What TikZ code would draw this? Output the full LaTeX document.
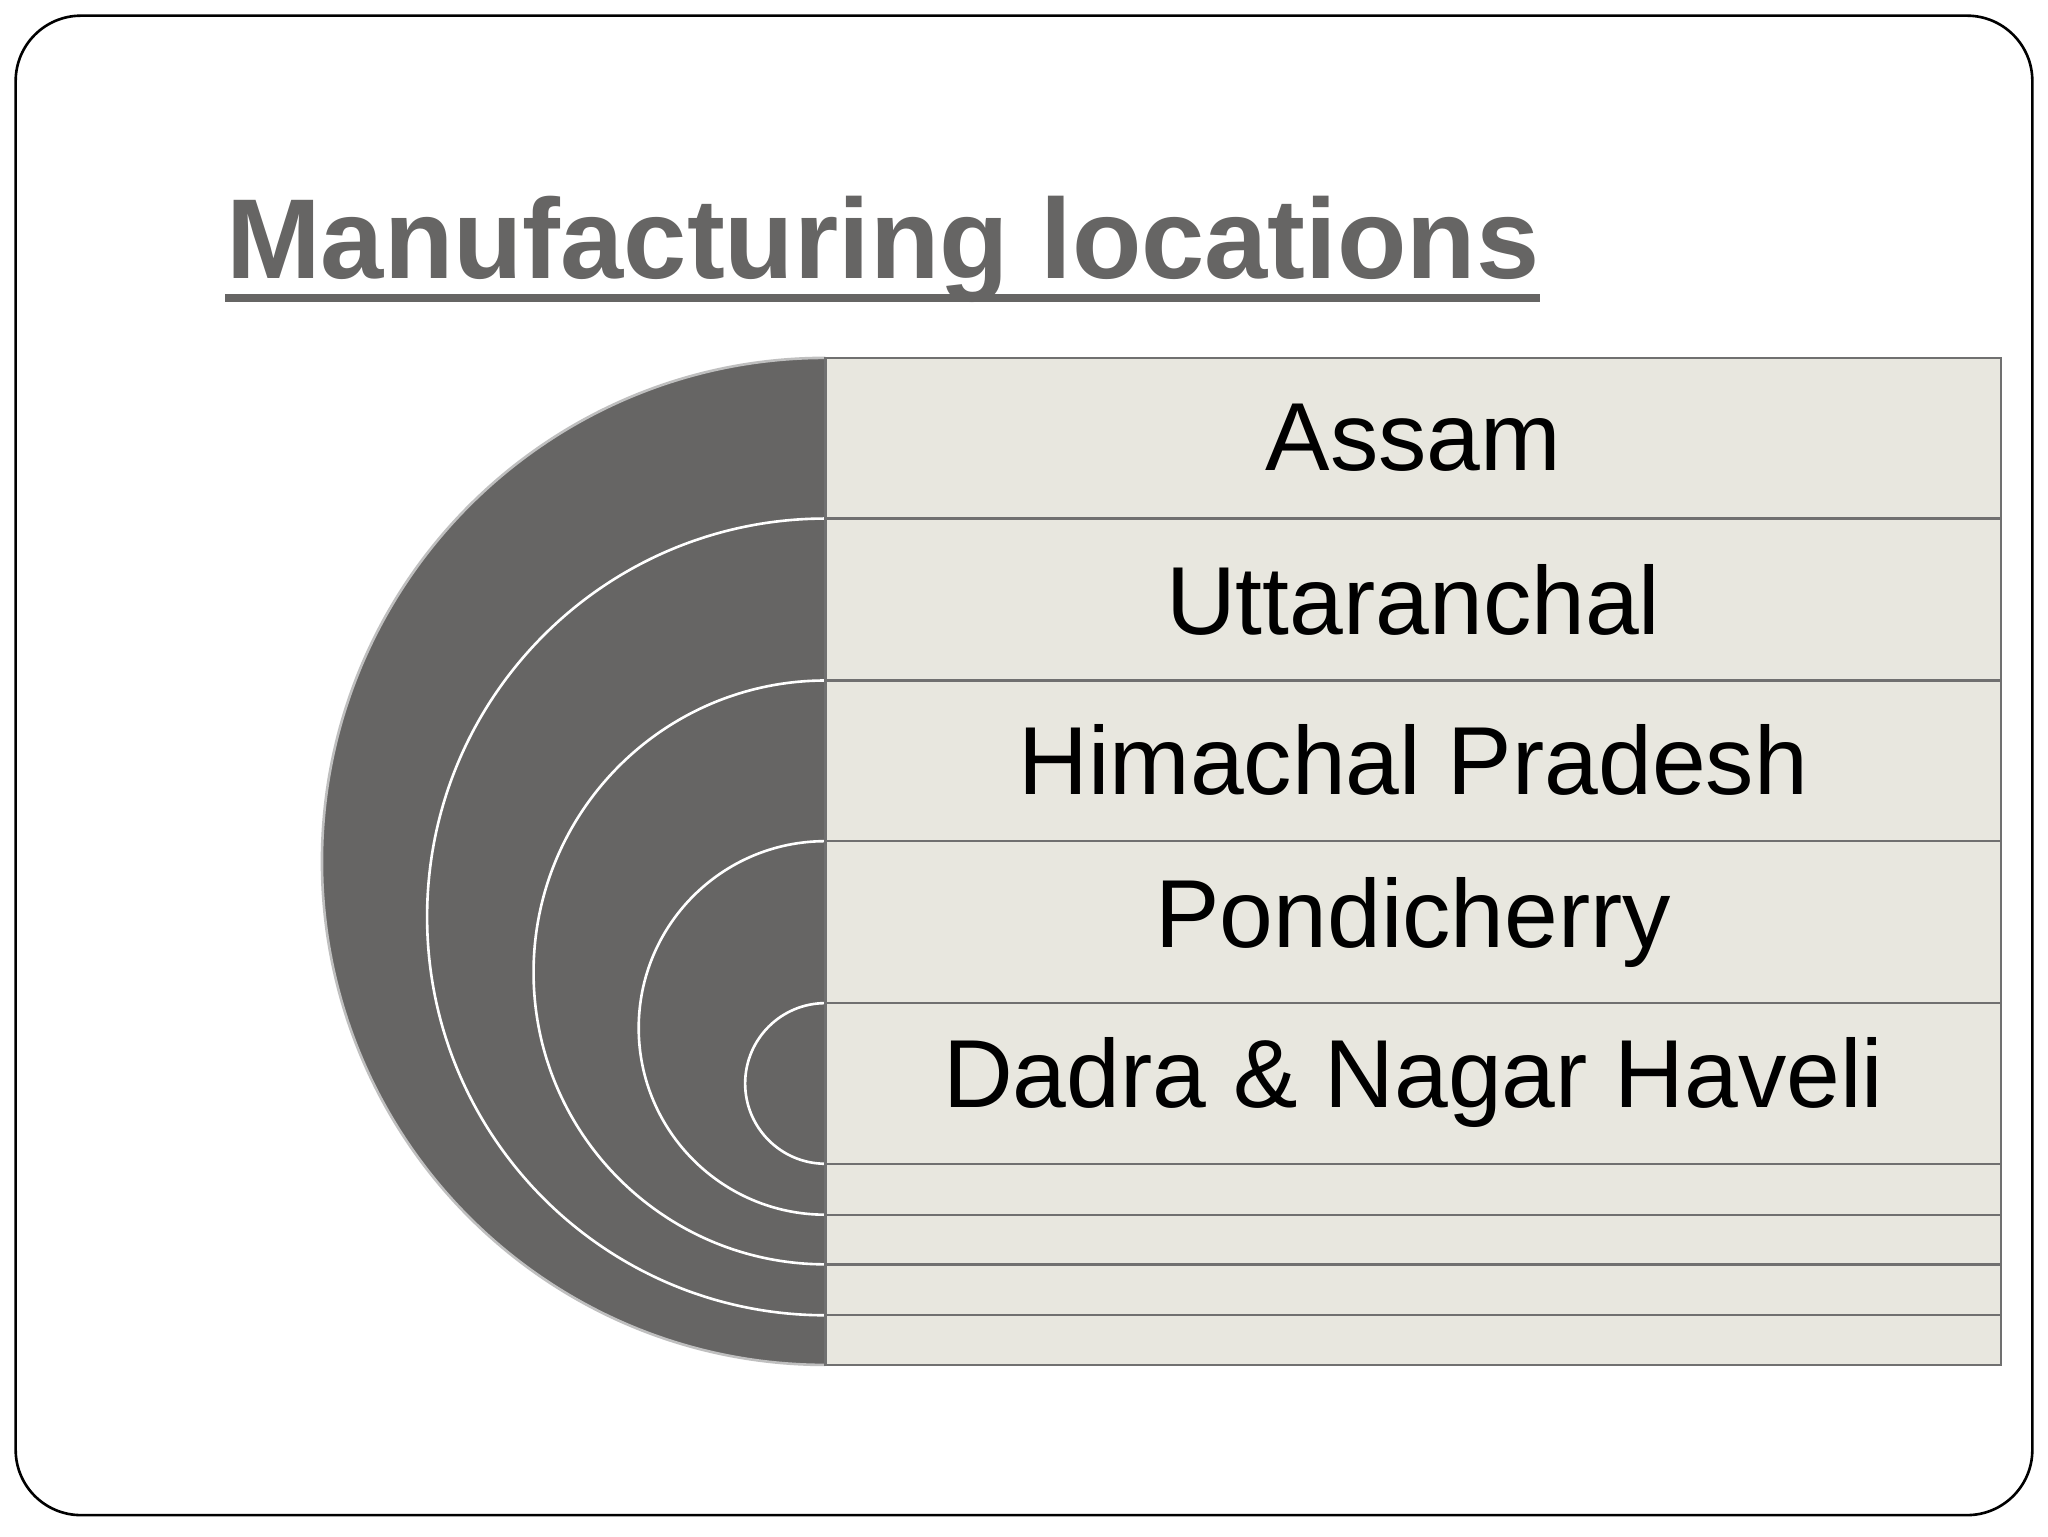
\documentclass[tikz,border=0pt]{standalone}
\usepackage{fontspec}
\setmainfont{Liberation Sans}
\begin{document}
\begin{tikzpicture}[x=1pt,y=-1pt,
  semi/.style={fill=dark,draw=white,line width=2pt},
  rowbox/.style={fill=rowfill,draw=rowline,line width=1.8pt},
  lbl/.style={font=\fontsize{74}{76}\selectfont,text=black}]
\definecolor{dark}{HTML}{666564}
\definecolor{rowfill}{HTML}{E8E7DF}
\definecolor{rowline}{HTML}{707070}
\useasboundingbox (0,0) rectangle (1568,1176);
\fill[white] (0,0) rectangle (1568,1176);
\draw[line width=2pt,rounded corners=50pt] (12,12) rectangle (1556,1160);
\node[anchor=base west,inner sep=0pt,text=dark,font=\fontsize{87}{90}\selectfont\bfseries] (title) at (173,213) {Manufacturing locations};
\fill[dark] (172,225) rectangle (1179,231);
% semicircles
\draw[semi,draw=lightgray] (632,274) arc[start angle=270,end angle=90,radius=385.5];
\draw[semi] (632,397) arc[start angle=270,end angle=90,radius=305];
\draw[semi] (632,521) arc[start angle=270,end angle=90,radius=223.5];
\draw[semi] (632,644) arc[start angle=270,end angle=90,radius=143];
\draw[semi] (632,768) arc[start angle=270,end angle=90,radius=61.5];
% rows
\draw[rowbox] (632,274) rectangle (1532,397);
\draw[rowbox] (632,397) rectangle (1532,521);
\draw[rowbox] (632,521) rectangle (1532,644);
\draw[rowbox] (632,644) rectangle (1532,768);
\draw[rowbox] (632,768) rectangle (1532,891);
\draw[rowbox] (632,891) rectangle (1532,930);
\draw[rowbox] (632,930) rectangle (1532,968);
\draw[rowbox] (632,968) rectangle (1532,1007);
\draw[rowbox] (632,1007) rectangle (1532,1045);
\node[lbl] (a) at (1082,335) {Assam};
\node[lbl] (b) at (1082,459) {Uttaranchal};
\node[lbl] (c) at (1082,582) {Himachal Pradesh};
\node[lbl] (d) at (1082,706) {Pondicherry};
\node[lbl] (e) at (1082,829) {Dadra \& Nagar Haveli};
\end{tikzpicture}
\end{document}
